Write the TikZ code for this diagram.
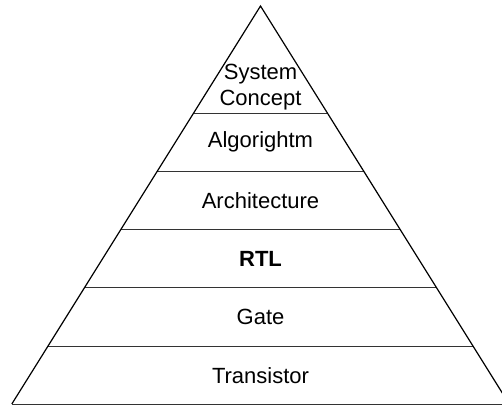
\documentclass[tikz,border=0pt]{standalone}
\usepackage{fontspec}
\setmainfont{Liberation Sans}
\begin{document}
\begin{tikzpicture}[x=1pt,y=-1pt,
  lvl/.style={font=\fontsize{22}{26}\selectfont, align=center, inner sep=0pt},
  sep/.style={line width=1pt, draw=black!80},
  edge/.style={line width=1.2pt, draw=black, line join=miter}]
\useasboundingbox (0,0) rectangle (502,405);
\coordinate (apex) at (260.5,6);
\coordinate (bl) at (11.8,404);
\coordinate (br) at (509.2,404);
\begin{scope}
  \clip (apex) -- (bl) -- (br) -- cycle;
  \foreach \y in {113,171.2,229.5,287.8,346} \draw[sep] (0,\y) -- (510,\y);
\end{scope}
\draw[edge] (bl) -- (apex) -- (br);
\draw[sep] (bl) -- (br);
\node[lvl] (sys) at (260.5,87) {System\\Concept};
\node[lvl] (alg) at (260.5,142) {Algorightm};
\node[lvl] (arch) at (260.5,200.5) {Architecture};
\node[lvl] (rtl) at (260.5,258.5) {\bfseries RTL};
\node[lvl] (gate) at (260.5,317) {Gate};
\node[lvl] (tran) at (260.5,376) {Transistor};
\end{tikzpicture}
\end{document}
